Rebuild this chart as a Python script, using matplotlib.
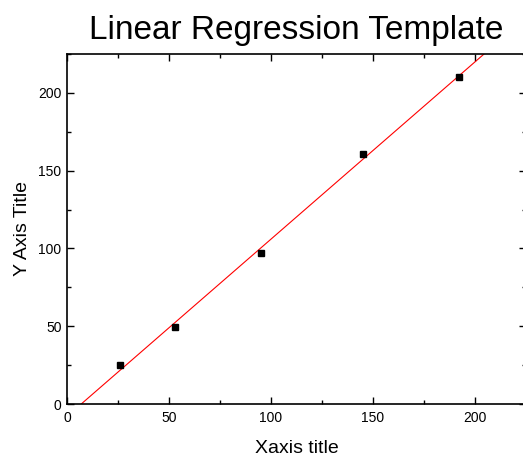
import matplotlib.pyplot as plt
import numpy as np
from matplotlib.ticker import MultipleLocator

plt.rcParams['font.family'] = ['Liberation Sans', 'DejaVu Sans']

# data
x_vals = np.array([26, 53, 95, 145, 192])
y_vals = np.array([25, 49.5, 97, 161, 210])

# linear fit
slope, intercept = np.polyfit(x_vals, y_vals, 1)

fig = plt.figure(figsize=(5.23, 4.57), dpi=100)
ax = fig.add_axes([67 / 523, 53 / 457, (526 - 67) / 523, (404 - 54) / 457])

fit_x = np.array([0, 225])
ax.plot(fit_x, slope * fit_x + intercept, color='red', linewidth=0.8)
ax.plot(x_vals, y_vals, 's', color='black', markersize=4.2)

ax.set_xlim(0, 225)
ax.set_ylim(0, 225)
ax.xaxis.set_major_locator(MultipleLocator(50))
ax.xaxis.set_minor_locator(MultipleLocator(25))
ax.yaxis.set_major_locator(MultipleLocator(50))
ax.yaxis.set_minor_locator(MultipleLocator(25))
ax.tick_params(which='both', direction='in', top=True, right=True,
               labelsize=10, width=1)
ax.tick_params(axis='x', pad=5)
ax.tick_params(axis='y', pad=4)
ax.tick_params(which='major', length=5)
ax.tick_params(which='minor', length=3)
for s in ax.spines.values():
    s.set_linewidth(1.2)
ax.spines['right'].set_visible(False)

ax.set_title('Linear Regression Template', fontsize=24, pad=11)
ax.set_xlabel('Xaxis title', fontsize=14, labelpad=11)
ax.set_ylabel('Y Axis Title', fontsize=14, labelpad=5)

fig.savefig('out.png', dpi=100)
